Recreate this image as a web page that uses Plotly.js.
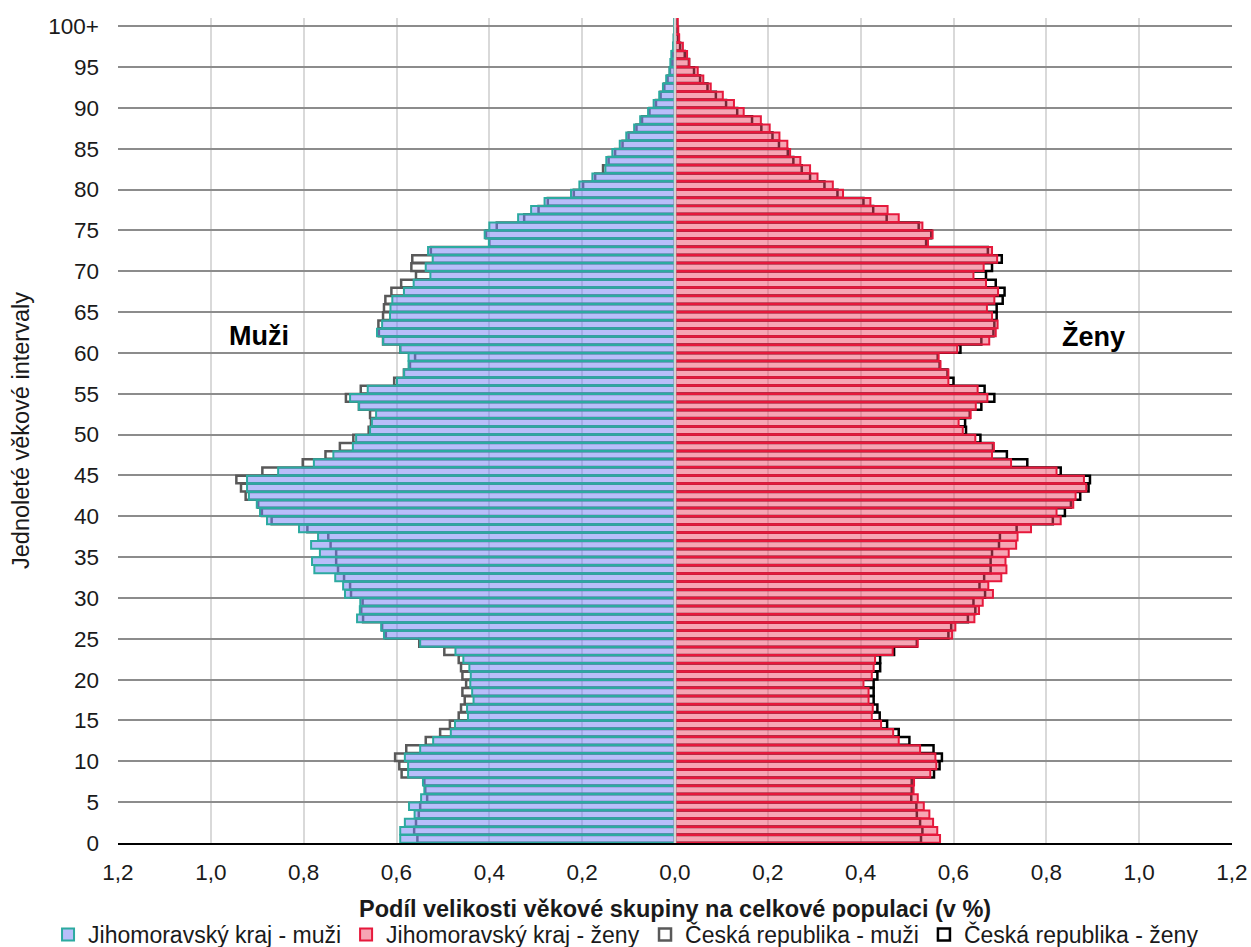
<!DOCTYPE html>
<html>
<head>
<meta charset="utf-8">
<script src="https://cdn.plot.ly/plotly-3.0.1.min.js"></script>
<style>
  html, body { margin: 0; padding: 0; background: #ffffff; }
  #chart { width: 1251px; height: 947px; }
</style>
</head>
<body>
<div id="chart"></div>
<script>
// Jednoleté věkové skupiny 0 … 100+ (poslední skupina = 100 a více let)
const ageGroups = [
  0,1,2,3,4,5,6,7,8,9,10,11,12,13,14,15,16,17,18,19,20,
  21,22,23,24,25,26,27,28,29,30,31,32,33,34,35,36,37,38,39,40,
  41,42,43,44,45,46,47,48,49,50,51,52,53,54,55,56,57,58,59,60,
  61,62,63,64,65,66,67,68,69,70,71,72,73,74,75,76,77,78,79,80,
  81,82,83,84,85,86,87,88,89,90,91,92,93,94,95,96,97,98,99,100
];

// Podíl věkové skupiny na celkové populaci (v %)
const jmkMuzi = [
  0.592,0.592,0.582,0.561,0.573,0.547,0.540,0.543,0.575,0.575,
  0.582,0.549,0.521,0.483,0.474,0.446,0.448,0.434,0.437,0.441,
  0.440,0.443,0.456,0.473,0.549,0.627,0.633,0.685,0.679,0.678,
  0.711,0.715,0.732,0.777,0.782,0.765,0.784,0.769,0.810,0.879,
  0.894,0.901,0.918,0.922,0.922,0.855,0.778,0.736,0.694,0.687,
  0.657,0.653,0.644,0.681,0.700,0.662,0.599,0.584,0.574,0.574,
  0.592,0.629,0.642,0.631,0.614,0.613,0.609,0.584,0.563,0.527,
  0.537,0.522,0.532,0.401,0.410,0.400,0.338,0.310,0.281,0.224,
  0.206,0.178,0.150,0.148,0.135,0.119,0.105,0.088,0.075,0.058,
  0.046,0.034,0.026,0.019,0.012,0.010,0.008,0.004,0.003,0.002,
  0.002
];

const jmkZeny = [
  0.571,0.565,0.556,0.548,0.536,0.523,0.514,0.515,0.550,0.563,
  0.561,0.528,0.482,0.470,0.444,0.424,0.426,0.417,0.417,0.406,
  0.424,0.428,0.431,0.469,0.523,0.597,0.604,0.645,0.655,0.663,
  0.685,0.675,0.703,0.714,0.712,0.719,0.735,0.738,0.767,0.831,
  0.822,0.858,0.863,0.886,0.881,0.822,0.724,0.683,0.687,0.647,
  0.620,0.611,0.637,0.648,0.673,0.652,0.589,0.589,0.572,0.568,
  0.608,0.677,0.691,0.695,0.683,0.672,0.688,0.696,0.670,0.643,
  0.665,0.694,0.683,0.545,0.555,0.533,0.482,0.458,0.421,0.362,
  0.340,0.307,0.291,0.270,0.248,0.242,0.225,0.204,0.185,0.148,
  0.127,0.103,0.077,0.061,0.049,0.031,0.026,0.017,0.009,0.007,
  0.006
];

const crMuzi = [
  0.555,0.562,0.558,0.552,0.549,0.534,0.538,0.540,0.589,0.594,
  0.603,0.579,0.537,0.506,0.485,0.466,0.461,0.453,0.458,0.450,
  0.458,0.461,0.466,0.497,0.551,0.623,0.631,0.672,0.676,0.673,
  0.698,0.700,0.713,0.726,0.730,0.730,0.742,0.747,0.792,0.869,
  0.890,0.898,0.925,0.935,0.945,0.889,0.802,0.753,0.722,0.693,
  0.660,0.655,0.657,0.681,0.709,0.677,0.605,0.584,0.571,0.560,
  0.592,0.629,0.638,0.639,0.629,0.627,0.624,0.611,0.590,0.558,
  0.568,0.566,0.526,0.400,0.407,0.384,0.325,0.294,0.274,0.218,
  0.198,0.172,0.155,0.143,0.129,0.113,0.100,0.083,0.071,0.055,
  0.041,0.031,0.023,0.016,0.011,0.006,0.005,0.003,0.002,0.001,
  0.001
];

const crZeny = [
  0.530,0.533,0.528,0.521,0.520,0.509,0.510,0.510,0.558,0.570,
  0.575,0.557,0.505,0.482,0.457,0.441,0.436,0.428,0.428,0.428,
  0.436,0.442,0.442,0.472,0.521,0.589,0.595,0.631,0.647,0.643,
  0.668,0.656,0.666,0.680,0.680,0.683,0.698,0.700,0.736,0.814,
  0.840,0.853,0.873,0.891,0.894,0.831,0.759,0.715,0.685,0.658,
  0.627,0.625,0.635,0.660,0.688,0.667,0.600,0.587,0.570,0.566,
  0.615,0.660,0.686,0.688,0.693,0.693,0.706,0.710,0.691,0.670,
  0.683,0.704,0.674,0.541,0.552,0.525,0.456,0.427,0.406,0.350,
  0.322,0.291,0.273,0.255,0.243,0.224,0.210,0.186,0.166,0.134,
  0.110,0.088,0.070,0.054,0.041,0.030,0.021,0.011,0.007,0.004,
  0.003
];

// Popisky os
const yTickVals = [0,5,10,15,20,25,30,35,40,45,50,55,60,65,70,75,80,85,90,95,100];
const yTickText = ['0','5','10','15','20','25','30','35','40','45','50','55','60','65','70','75','80','85','90','95','100+'];
const xTickVals = [-1.2,-1.0,-0.8,-0.6,-0.4,-0.2,0,0.2,0.4,0.6,0.8,1.0,1.2];
const xTickText = ['1,2','1,0','0,8','0,6','0,4','0,2','0,0','0,2','0,4','0,6','0,8','1,0','1,2'];
const xTitle = 'Podíl velikosti věkové skupiny na celkové populaci (v %)';

// Každá věková skupina zabírá pás [věk, věk + 1] na svislé ose
const yPos = ageGroups.map(a => a + 0.5);
const toLeft = arr => arr.map(v => -v);

const FONT = 'Liberation Sans, Arial, sans-serif';
const TXT = '#1a1a1a';

// Obrysy ČR leží pod poloprůhlednými sloupci kraje
const traces = [
  {
    type: 'bar', orientation: 'h', name: 'Česká republika - muži',
    x: toLeft(crMuzi), y: yPos, legend: 'legend2', legendrank: 1, hoverinfo: 'skip',
    marker: { color: 'rgba(255,255,255,0)', line: { color: '#595959', width: 2.5 } }
  },
  {
    type: 'bar', orientation: 'h', name: 'Česká republika - ženy',
    x: crZeny, y: yPos, legend: 'legend2', legendrank: 2, hoverinfo: 'skip',
    marker: { color: 'rgba(255,255,255,0)', line: { color: '#000000', width: 2.5 } }
  },
  {
    type: 'bar', orientation: 'h', name: 'Jihomoravský kraj - ženy',
    x: jmkZeny, y: yPos, legend: 'legend', legendrank: 2, hoverinfo: 'skip',
    marker: { color: 'rgba(239,75,105,0.5)', line: { color: '#e6193c', width: 2 } }
  },
  {
    type: 'bar', orientation: 'h', name: 'Jihomoravský kraj - muži',
    x: toLeft(jmkMuzi), y: yPos, legend: 'legend', legendrank: 1, hoverinfo: 'skip',
    marker: { color: 'rgba(113,125,245,0.5)', line: { color: '#2caaa0', width: 2 } }
  }
];

const legendBase = {
  orientation: 'h', xref: 'container', yref: 'container',
  xanchor: 'left', y: 0.0359, yanchor: 'top',
  font: { family: FONT, size: 23, color: TXT },
  itemwidth: 30, tracegroupgap: 0, bgcolor: 'rgba(0,0,0,0)'
};

const layout = {
  width: 1251, height: 947,
  margin: { l: 118, r: 19, t: 18, b: 104 },
  paper_bgcolor: '#ffffff', plot_bgcolor: '#ffffff',
  font: { family: FONT, size: 23, color: TXT },
  barmode: 'overlay', bargap: 0.06,
  showlegend: true,
  xaxis: {
    range: [-1.2, 1.2], tickvals: xTickVals, ticktext: xTickText,
    showgrid: true, gridcolor: '#d9d9d9', gridwidth: 2,
    zeroline: false, showline: true, linecolor: '#000000', linewidth: 2,
    ticks: '', ticklabelstandoff: 8, automargin: false,
    tickfont: { family: FONT, size: 22.5, color: TXT },
    fixedrange: true
  },
  yaxis: {
    range: [0, 101], tickvals: yTickVals, ticktext: yTickText,
    showgrid: true, gridcolor: '#8c8c8c', gridwidth: 2,
    zeroline: false, showline: false,
    ticks: '', ticklabelstandoff: 18, automargin: false,
    tickfont: { family: FONT, size: 22.5, color: TXT },
    title: {
      text: 'Jednoleté věkové intervaly',
      font: { family: FONT, size: 23.5, color: TXT }, standoff: 12
    },
    fixedrange: true
  },
  legend: Object.assign({}, legendBase, { x: 0.0384 }),
  legend2: Object.assign({}, legendBase, { x: 0.5156 }),
  // světlá osa v nule mezi levou a pravou polovinou pyramidy
  shapes: [
    { type: 'line', xref: 'x', yref: 'paper', x0: 0, x1: 0, y0: 0, y1: 1,
      layer: 'above', line: { color: '#d4d4d4', width: 2.5 } }
  ],
  annotations: [
    // název vodorovné osy
    { text: '<b>' + xTitle + '</b>', xref: 'paper', yref: 'paper', x: 0.5, y: -0.080,
      xanchor: 'center', yanchor: 'middle', showarrow: false,
      font: { family: FONT, size: 23.5, color: TXT } },
    { text: '<b>Muži</b>', xref: 'paper', yref: 'paper', x: 0.127, y: 0.6145,
      xanchor: 'center', yanchor: 'middle', showarrow: false,
      font: { family: FONT, size: 27, color: '#000000' } },
    { text: '<b>Ženy</b>', xref: 'paper', yref: 'paper', x: 0.876, y: 0.6145,
      xanchor: 'center', yanchor: 'middle', showarrow: false,
      font: { family: FONT, size: 27, color: '#000000' } }
  ]
};

Plotly.newPlot('chart', traces, layout, { displayModeBar: false, staticPlot: true });
</script>
</body>
</html>
